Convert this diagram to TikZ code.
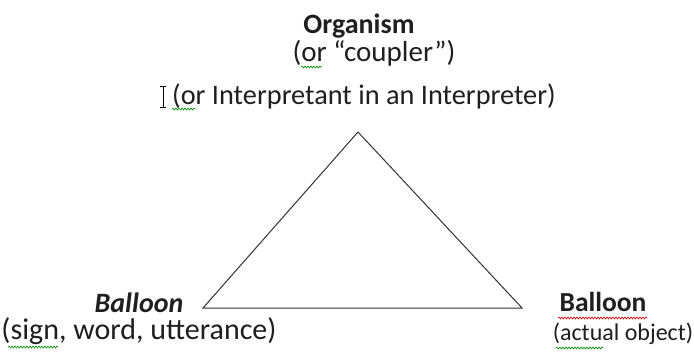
\documentclass[tikz,border=0pt]{standalone}
\usepackage{fontspec}
\setmainfont{Carlito}
\usetikzlibrary{decorations.pathmorphing}
\begin{document}
\begin{tikzpicture}[x=1pt,y=-1pt,
  lbl/.style={anchor=base,inner sep=0pt,text=black!88},
  edge/.style={draw=black!80,line width=1pt},
  squig/.style={decorate,decoration={snake,amplitude=1pt,segment length=3pt},line width=0.6pt},
  grn/.style={squig,draw=green!55!black},
  redsq/.style={squig,draw=red!80!black}]
\useasboundingbox[fill=white] (0,0) rectangle (694,356);
% texts
\node[lbl,font=\fontsize{28}{32}\selectfont\bfseries] (org) at (359,33) {Organism};
\node[lbl,font=\fontsize{29}{33}\selectfont] (coup) at (374,61) {(or “coupler”)};
\node[lbl,font=\fontsize{28.3}{33}\selectfont] (interp) at (364,104) {(or Interpretant in an Interpreter)};
\node[lbl,font=\fontsize{28}{32}\selectfont\bfseries\itshape] (bl) at (139,312) {Balloon};
\node[lbl,font=\fontsize{30}{34}\selectfont] (bl2) at (139,339) {(sign, word, utterance)};
\node[lbl,font=\fontsize{27.5}{32}\selectfont\bfseries] (br) at (603,311) {Balloon};
\node[lbl,font=\fontsize{24}{28}\selectfont] (br2) at (623,340) {(actual object)};
% triangle
\coordinate (top) at (358,132);
\coordinate (left) at (203,308);
\coordinate (right) at (522,308);
\draw[edge,line join=miter] (top) -- (right) -- (left) -- cycle;
% spell-check squiggles
\draw[grn] (301,67) -- (322,67);
\draw[grn] (172,109) -- (195,109);
\draw[grn] (8,347) -- (58,347);
\draw[redsq] (558,318) -- (647,318);
\draw[grn] (556,348) -- (603,348);
% text cursor
\draw[black,line width=0.8pt] (163,86) -- (163,107) (160,86) -- (166,86) (160,107) -- (166,107);
\end{tikzpicture}
\end{document}
